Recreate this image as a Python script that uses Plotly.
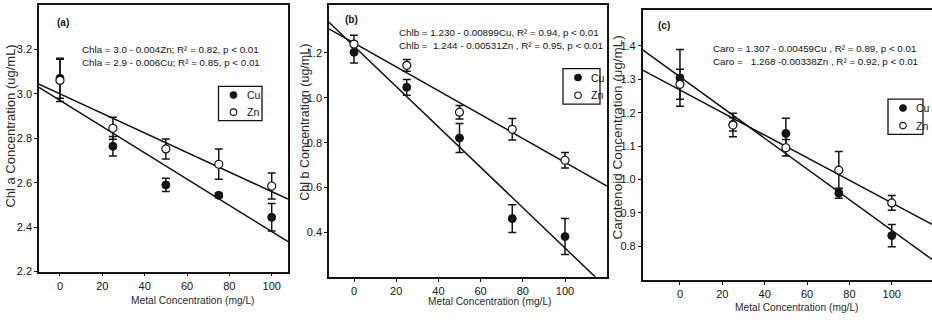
import plotly.graph_objects as go

W, H = 932, 323

# ---------------- data ----------------
doses = [0, 25, 50, 75, 100]

chla_cu = [3.07, 2.764, 2.59, 2.543, 2.444]
chla_cu_err = [0.09, 0.044, 0.03, 0.01, 0.062]
chla_zn = [3.06, 2.845, 2.752, 2.683, 2.585]
chla_zn_err = [0.095, 0.05, 0.045, 0.068, 0.058]

chlb_cu = [1.203, 1.047, 0.821, 0.462, 0.382]
chlb_cu_err = [0.048, 0.035, 0.065, 0.062, 0.08]
chlb_zn = [1.239, 1.145, 0.936, 0.860, 0.722]
chlb_zn_err = [0.04, 0.026, 0.03, 0.048, 0.034]

caro_cu = [1.304, 1.165, 1.138, 0.959, 0.832]
caro_cu_err = [0.085, 0.02, 0.045, 0.015, 0.033]
caro_zn = [1.285, 1.163, 1.095, 1.028, 0.930]
caro_zn_err = [0.045, 0.035, 0.025, 0.056, 0.022]

# regression lines: intercept, slope
fit_a_cu = (2.97, -0.0059)
fit_a_zn = (3.0, -0.0044)
fit_b_cu = (1.230, -0.00899)
fit_b_zn = (1.244, -0.00531)
fit_c_cu = (1.307, -0.00459)
fit_c_zn = (1.268, -0.00338)

x_ticks = [0, 20, 40, 60, 80, 100]
y_ticks_a = [2.2, 2.4, 2.6, 2.8, 3.0, 3.2]
y_ticks_b = [0.4, 0.6, 0.8, 1.0, 1.2]
y_ticks_c = [0.8, 0.9, 1.0, 1.1, 1.2, 1.3, 1.4]

eq_a = ["Chla = 3.0 - 0.004Zn; R² = 0.82, p < 0.01",
        "Chla = 2.9 - 0.006Cu; R² = 0.85, p < 0.01"]
eq_b = ["Chlb = 1.230 - 0.00899Cu, R² = 0.94, p < 0.01",
        "Chlb = \u00a01.244 - 0.00531Zn , R² = 0.95, p < 0.01"]
eq_c = ["Caro = 1.307 - 0.00459Cu , R² = 0.89, p < 0.01",
        "Caro = \u00a0\u00a01.268 -0.00338Zn , R² = 0.92, p < 0.01"]

ytitles = ["Chl a Concentration (ug/mL)", "Chl b Concentration (ug/mL)",
           "Carotenoid Concentration (ug/mL)"]
xtitle = "Metal Concentration (mg/L)"
panel_labels = ["(a)", "(b)", "(c)"]

# ---------------- layout geometry (pixels) ----------------
FONT = "Liberation Sans, Arial, sans-serif"
INK = "#141414"

panels = [
    dict(px=(39, 288), py=(5, 276.7), xr=[-9.9, 107.7], yr=[2.2, 3.4],
         yt=y_ticks_a, cu=chla_cu, cue=chla_cu_err, zn=chla_zn, zne=chla_zn_err,
         fcu=fit_a_cu, fzn=fit_a_zn, eq=eq_a, eqpos=(80, 50.5, 13.5),
         lab=(55, 23), ytit=(11, 129, 13), xtit=(192, 306),
         leg=(218.5, 88, 262, 123), mirror_y=True),
    dict(px=(329, 607), py=(5, 282), xr=[-11.85, 119.9], yr=[0.203, 1.414],
         yt=y_ticks_b, cu=chlb_cu, cue=chlb_cu_err, zn=chlb_zn, zne=chlb_zn_err,
         fcu=fit_b_cu, fzn=fit_b_zn, eq=eq_b, eqpos=(397, 33, 13.5),
         lab=(343, 20), ytit=(305, 125, 12.5), xtit=(489, 307),
         leg=(563, 70, 600, 106), mirror_y=True),
    dict(px=(642.7, 932), py=(10, 285), xr=[-17.6, 119.0], yr=[0.70, 1.508],
         yt=y_ticks_c, cu=caro_cu, cue=caro_cu_err, zn=caro_zn, zne=caro_zn_err,
         fcu=fit_c_cu, fzn=fit_c_zn, eq=eq_c, eqpos=(711, 49, 14),
         lab=(656, 26), ytit=(617, 140, 13.5), xtit=(796, 313),
         leg=(888, 101, 923, 137), mirror_y=False),
]


def fx(p):
    return p / W


def fy(p):
    return 1 - p / H


fig = go.Figure()
annotations = []
shapes = []
layout_axes = {}

for i, P in enumerate(panels, start=1):
    xa = "x" if i == 1 else f"x{i}"
    ya = "y" if i == 1 else f"y{i}"
    xkey = "xaxis" if i == 1 else f"xaxis{i}"
    ykey = "yaxis" if i == 1 else f"yaxis{i}"

    # regression lines across the full axis range
    for (b0, b1) in (P["fcu"], P["fzn"]):
        xs = list(P["xr"])
        fig.add_trace(go.Scatter(
            x=xs, y=[b0 + b1 * v for v in xs], mode="lines",
            line=dict(color=INK, width=1.5), xaxis=xa, yaxis=ya,
            showlegend=False, hoverinfo="skip"))

    # Cu (filled) then Zn (open)
    fig.add_trace(go.Scatter(
        x=doses, y=P["cu"], mode="markers", name="Cu",
        error_y=dict(type="data", array=P["cue"], color=INK, thickness=1.5, width=4),
        marker=dict(symbol="circle", size=8, color=INK, line=dict(color=INK, width=1)),
        xaxis=xa, yaxis=ya, showlegend=False))
    fig.add_trace(go.Scatter(
        x=doses, y=P["zn"], mode="markers", name="Zn",
        error_y=dict(type="data", array=P["zne"], color=INK, thickness=1.5, width=4),
        marker=dict(symbol="circle", size=8, color="white", line=dict(color=INK, width=1.2)),
        xaxis=xa, yaxis=ya, showlegend=False))

    layout_axes[xkey] = dict(
        domain=[fx(P["px"][0]), fx(P["px"][1])], range=P["xr"], anchor=ya,
        tickvals=x_ticks, ticks="outside", ticklen=3, tickwidth=1.2, tickcolor=INK,
        showline=True, linecolor=INK, linewidth=1.6, mirror=True,
        showgrid=False, zeroline=False,
        tickfont=dict(family=FONT, size=11, color=INK))
    layout_axes[ykey] = dict(
        domain=[fy(P["py"][1]), fy(P["py"][0])], range=P["yr"], anchor=xa,
        tickvals=P["yt"], tickformat=".1f", ticks="outside", ticklen=3, tickwidth=1.2,
        tickcolor=INK, showline=True, linecolor=INK, linewidth=1.6,
        mirror=P["mirror_y"], showgrid=False, zeroline=False,
        tickfont=dict(family=FONT, size=11, color=INK))

    # equations
    ex, ey, dy = P["eqpos"]
    for k, t in enumerate(P["eq"]):
        annotations.append(dict(
            text=t, xref="paper", yref="paper", x=fx(ex), y=fy(ey + k * dy),
            xanchor="left", yanchor="middle", showarrow=False,
            font=dict(family=FONT, size=9.8, color=INK)))

    # panel label
    lx, ly = P["lab"]
    annotations.append(dict(
        text="<b>" + panel_labels[i - 1] + "</b>", xref="paper", yref="paper",
        x=fx(lx), y=fy(ly), xanchor="left", yanchor="middle", showarrow=False,
        font=dict(family=FONT, size=10, color=INK)))

    # axis titles
    tx, ty, ts = P["ytit"]
    annotations.append(dict(
        text=ytitles[i - 1], xref="paper", yref="paper", x=fx(tx), y=fy(ty),
        xanchor="center", yanchor="middle", textangle=-90, showarrow=False,
        font=dict(family=FONT, size=ts, color="#2a2a2a")))
    xx, xy = P["xtit"]
    annotations.append(dict(
        text=xtitle, xref="paper", yref="paper", x=fx(xx), y=fy(xy),
        xanchor="center", yanchor="middle", showarrow=False,
        font=dict(family=FONT, size=10.2, color="#2a2a2a")))

    # legend box (drawn)
    x0, y0, x1, y1 = P["leg"]
    shapes.append(dict(type="rect", xref="paper", yref="paper",
                       x0=fx(x0), x1=fx(x1), y0=fy(y0), y1=fy(y1),
                       line=dict(color=INK, width=1.3), fillcolor="white", layer="above"))
    rows = [("Cu", INK), ("Zn", "white")]
    rh = (y1 - y0) / 2
    for k, (nm, fill) in enumerate(rows):
        cy = y0 + rh * (k + 0.5)
        cx = x0 + 15
        r = 3.3
        shapes.append(dict(type="circle", xref="paper", yref="paper",
                           x0=fx(cx - r), x1=fx(cx + r), y0=fy(cy - r), y1=fy(cy + r),
                           line=dict(color=INK, width=1.1), fillcolor=fill, layer="above"))
        annotations.append(dict(
            text=nm, xref="paper", yref="paper", x=fx(x0 + 26), y=fy(cy),
            xanchor="left", yanchor="middle", showarrow=False,
            font=dict(family=FONT, size=10.5, color=INK)))

fig.update_layout(
    width=W, height=H, margin=dict(l=0, r=0, t=0, b=0),
    paper_bgcolor="white", plot_bgcolor="white",
    annotations=annotations, shapes=shapes, showlegend=False,
    **layout_axes)

fig.write_html("out.html", config={"displayModeBar": False},
               post_script="document.body.style.margin='0';document.body.style.overflow='hidden';")
